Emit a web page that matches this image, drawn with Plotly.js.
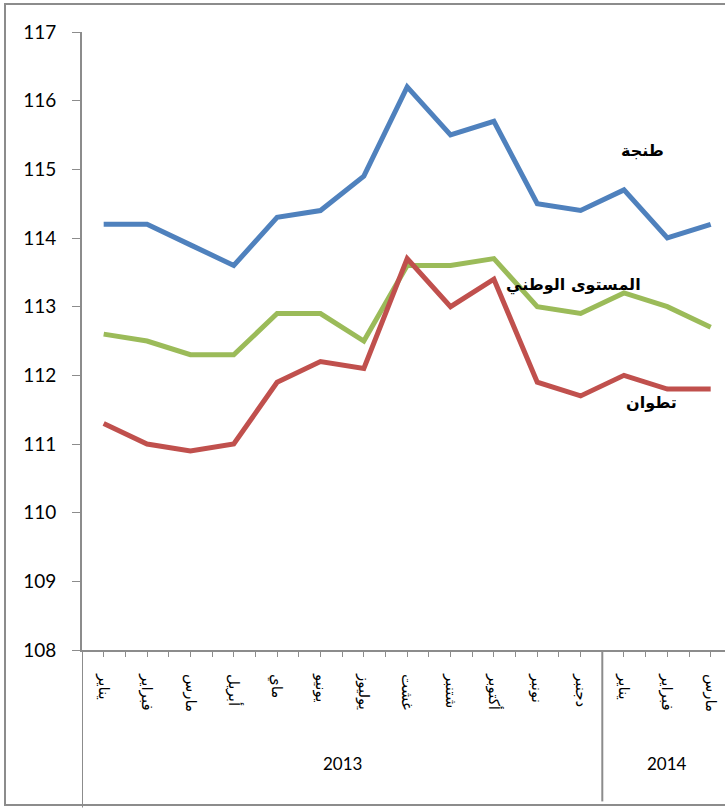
<!DOCTYPE html>
<html>
<head>
<meta charset="utf-8">
<script src="https://cdn.plot.ly/plotly-3.0.1.min.js"></script>
<style>
  html, body { margin: 0; padding: 0; background: #fff; overflow: hidden; }
  #wrap { position: relative; width: 725px; height: 812px; }
  #chart { position: absolute; left: 0; top: 0; width: 725px; height: 812px; }
  #frame { position: absolute; left: 4px; top: 3px; width: 740px; height: 803px;
           border: 2px solid #8c8c8c; pointer-events: none; box-sizing: border-box; }
</style>
</head>
<body>
<div id="wrap">
  <div id="chart"></div>
  <div id="frame"></div>
</div>
<script>
// ---- Data ----
const months = ["يناير","فبراير","مارس","أبريل","ماي","يونيو","يوليوز","غشت","شتنبر","أكتوبر","نونبر","دجنبر","يناير","فبراير","مارس"];
const years  = ["2013","2013","2013","2013","2013","2013","2013","2013","2013","2013","2013","2013","2014","2014","2014"];
const tanger   = [114.2,114.2,113.9,113.6,114.3,114.4,114.9,116.2,115.5,115.7,114.5,114.4,114.7,114.0,114.2];
const national = [112.6,112.5,112.3,112.3,112.9,112.9,112.5,113.6,113.6,113.7,113.0,112.9,113.2,113.0,112.7];
const tetouan  = [111.3,111.0,110.9,111.0,111.9,112.2,112.1,113.7,113.0,113.4,111.9,111.7,112.0,111.8,111.8];
const seriesNames = ["طنجة","المستوى الوطني","تطوان"];
const yTicks = [108,109,110,111,112,113,114,115,116,117];

// ---- Build ----
const idx = months.map((_, i) => i);
const colors = ["#4F81BD", "#9BBB59", "#C0504D"];
const data = [tanger, national, tetouan].map((ys, k) => ({
  x: idx, y: ys, type: "scatter", mode: "lines", name: seriesNames[k],
  line: { color: colors[k], width: 5 }, hoverinfo: "skip"
}));

// year groups
const groups = [];
years.forEach((y, i) => {
  if (!groups.length || groups[groups.length - 1].year !== y) groups.push({ year: y, start: i, end: i });
  else groups[groups.length - 1].end = i;
});

const shapes = [];
const annotations = [];
const axisGray = "#8c8c8c";
groups.forEach((g, gi) => {
  annotations.push({
    x: (g.start + g.end) / 2, xref: "x", y: -0.204, yref: "paper",
    text: g.year, showarrow: false, font: { family: "Lato, 'Liberation Sans', sans-serif", size: 17, color: "#000" }
  });
  shapes.push({
    type: "line", xref: "x", yref: "paper", x0: g.start - 0.5, x1: g.start - 0.5,
    y0: 0, y1: gi === 0 ? -0.255 : -0.245, line: { color: axisGray, width: 2 }
  });
});

const arabicFont = { family: "'DejaVu Sans', sans-serif", size: 16, color: "#000" };
const labelPos = [
  { x: 12.43, y: 115.28 },
  { x: 10.84, y: 113.32 },
  { x: 12.64, y: 111.6 }
];
seriesNames.forEach((n, k) => {
  annotations.push({
    x: labelPos[k].x, y: labelPos[k].y, xref: "x", yref: "y",
    text: "<b>" + n + "</b>", showarrow: false, font: arabicFont
  });
});

const layout = {
  width: 725, height: 812,
  margin: { l: 82, r: 0, t: 32, b: 162, pad: 0 },
  paper_bgcolor: "#fff", plot_bgcolor: "#fff",
  showlegend: false,
  xaxis: {
    type: "linear", range: [-0.5, 14.33],
    tickmode: "array", tickvals: idx, ticktext: months,
    tickangle: 90, ticks: "outside", ticklen: 5, tickwidth: 1, tickcolor: axisGray,
    ticklabelstandoff: 14,
    minor: { tickmode: "linear", tick0: 0.5, dtick: 1, ticks: "outside", ticklen: 5, tickcolor: axisGray, showgrid: false },
    showline: true, linecolor: axisGray, linewidth: 2, showgrid: false, zeroline: false,
    tickfont: { family: "'DejaVu Sans', sans-serif", size: 15, color: "#000" },
    fixedrange: true
  },
  yaxis: {
    range: [108, 117], tickmode: "array", tickvals: yTicks,
    ticks: "outside", ticklen: 8, tickwidth: 1, tickcolor: axisGray,
    ticklabelstandoff: 12,
    showline: true, linecolor: axisGray, linewidth: 2, showgrid: false, zeroline: false,
    tickfont: { family: "Lato, 'Liberation Sans', sans-serif", size: 19, color: "#000" },
    fixedrange: true
  },
  shapes: shapes,
  annotations: annotations
};

Plotly.newPlot("chart", data, layout, { staticPlot: true, displayModeBar: false });
</script>
</body>
</html>
